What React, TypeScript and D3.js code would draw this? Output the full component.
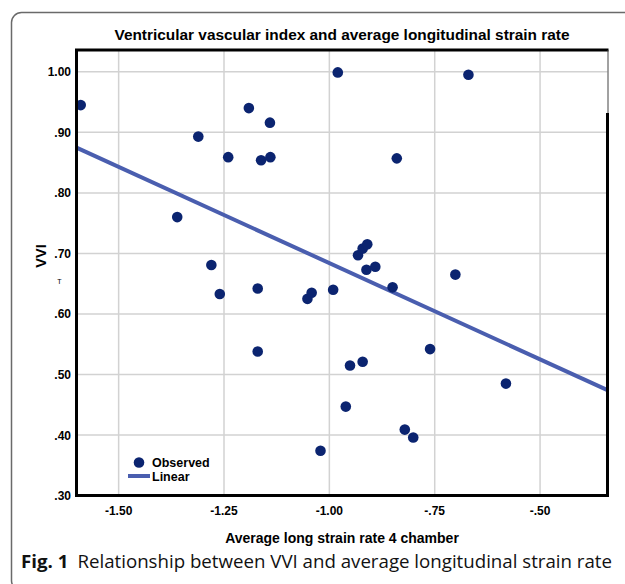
import React, { useEffect, useRef } from "react";
import * as d3 from "d3";

// observed points: average long strain rate (4 chamber) vs VVI
const strainRate = [
  -1.59, -1.311, -1.361, -1.28, -1.26, -1.191, -1.141, -1.24, -1.162, -1.14,
  -0.98, -0.67, -0.84, -1.17, -1.17, -1.052, -1.042, -0.991, -0.932, -0.921,
  -0.91, -0.912, -0.891, -0.85, -0.701, -0.951, -0.921, -0.761, -0.581, -0.961,
  -0.821, -0.801, -1.021,
];
const vvi = [
  0.945, 0.893, 0.76, 0.681, 0.633, 0.94, 0.916, 0.859, 0.854, 0.859,
  0.999, 0.995, 0.857, 0.642, 0.538, 0.625, 0.635, 0.64, 0.697, 0.708,
  0.715, 0.673, 0.678, 0.644, 0.665, 0.515, 0.521, 0.542, 0.485, 0.447,
  0.409, 0.396, 0.374,
];

const xTicks = [-1.5, -1.25, -1.0, -0.75, -0.5];
const xTickLabels = ["-1.50", "-1.25", "-1.00", "-.75", "-.50"];
const yTicks = [0.3, 0.4, 0.5, 0.6, 0.7, 0.8, 0.9, 1.0];
const yTickLabels = [".30", ".40", ".50", ".60", ".70", ".80", ".90", "1.00"];

// linear fit
const fitIntercept = 0.366;
const fitSlope = -0.318;

const xDomain = [-1.6, -0.34];
const yDomain = [0.3, 1.036];

export default function App() {
  const svgRef = useRef<SVGSVGElement>(null);

  useEffect(() => {
    const svg = d3.select(svgRef.current);
    svg.selectAll("*").remove();

    const left = 76.5, right = 607.5, top = 50, bottom = 495.6;
    const font = "Arial, 'Liberation Sans', sans-serif";

    const x = d3.scaleLinear().domain(xDomain).range([left, right]);
    const y = d3.scaleLinear().domain(yDomain).range([bottom, top]);

    // outer figure frame
    svg.append("rect")
      .attr("x", 11.5).attr("y", 12.5)
      .attr("width", 700).attr("height", 578)
      .attr("rx", 10)
      .attr("fill", "none")
      .attr("stroke", "#6a6a6a")
      .attr("stroke-width", 1.5);

    // title
    svg.append("text")
      .attr("x", (left + right) / 2).attr("y", 40)
      .attr("text-anchor", "middle")
      .attr("font-family", font).attr("font-weight", "bold").attr("font-size", 14.5)
      .attr("textLength", 455).attr("lengthAdjust", "spacingAndGlyphs")
      .text("Ventricular vascular index and average longitudinal strain rate");

    // grid
    const grid = svg.append("g").attr("stroke", "#d2d2d2").attr("stroke-width", 1.5);
    xTicks.forEach(t => {
      grid.append("line").attr("x1", x(t)).attr("x2", x(t)).attr("y1", top).attr("y2", bottom);
    });
    yTicks.forEach(t => {
      grid.append("line").attr("x1", left).attr("x2", right).attr("y1", y(t)).attr("y2", y(t));
    });

    // tick labels
    yTicks.forEach((t, i) => {
      svg.append("text")
        .attr("x", 71).attr("y", y(t) + 4.5)
        .attr("text-anchor", "end")
        .attr("font-family", font).attr("font-weight", "bold").attr("font-size", 12)
        .text(yTickLabels[i]);
    });
    xTicks.forEach((t, i) => {
      svg.append("text")
        .attr("x", x(t)).attr("y", 515)
        .attr("text-anchor", "middle")
        .attr("font-family", font).attr("font-weight", "bold").attr("font-size", 12)
        .text(xTickLabels[i]);
    });

    // axis titles
    svg.append("text")
      .attr("x", (left + right) / 2).attr("y", 543)
      .attr("text-anchor", "middle")
      .attr("font-family", font).attr("font-weight", "bold").attr("font-size", 14)
      .text("Average long strain rate 4 chamber");
    svg.append("text")
      .attr("transform", "translate(46,256) rotate(-90)")
      .attr("text-anchor", "middle")
      .attr("font-family", font).attr("font-weight", "bold").attr("font-size", 14.5)
      .text("VVI");
    svg.append("text")
      .attr("x", 59.5).attr("y", 284)
      .attr("text-anchor", "middle")
      .attr("font-family", font).attr("font-size", 7)
      .text("T");

    // fit line
    const fit = xDomain.map(v => [v, fitIntercept + fitSlope * v]);
    svg.append("path")
      .datum(fit)
      .attr("fill", "none")
      .attr("stroke", "#4a5eaf")
      .attr("stroke-width", 4)
      .attr("d", d3.line().x(d => x(d[0])).y(d => y(d[1])));

    // points
    svg.append("g")
      .selectAll("circle")
      .data(strainRate)
      .join("circle")
      .attr("cx", d => x(d))
      .attr("cy", (d, i) => y(vvi[i]))
      .attr("r", 5.3)
      .attr("fill", "#0b2470");

    // plot frame
    const frame = svg.append("g").attr("stroke", "#000").attr("fill", "none");
    frame.append("path")
      .attr("stroke-width", 3)
      .attr("d", `M${right + 1},${top} H${left} V${bottom} H${right}`);
    frame.append("line")
      .attr("x1", right + 0.5).attr("x2", right + 0.5).attr("y1", top).attr("y2", 113)
      .attr("stroke", "#444").attr("stroke-width", 1);
    frame.append("line")
      .attr("x1", right).attr("x2", right).attr("y1", 113).attr("y2", bottom + 1.5)
      .attr("stroke-width", 3);

    // legend
    svg.append("circle").attr("cx", 139).attr("cy", 462.5).attr("r", 5.3).attr("fill", "#0b2470");
    svg.append("text")
      .attr("x", 152).attr("y", 467)
      .attr("font-family", font).attr("font-weight", "bold").attr("font-size", 12.5)
      .text("Observed");
    svg.append("line")
      .attr("x1", 128).attr("x2", 150).attr("y1", 476).attr("y2", 476)
      .attr("stroke", "#4a5eaf").attr("stroke-width", 4);
    svg.append("text")
      .attr("x", 152).attr("y", 480.5)
      .attr("font-family", font).attr("font-weight", "bold").attr("font-size", 12.5)
      .text("Linear");

    // caption
    const cap = svg.append("text")
      .attr("x", 21).attr("y", 568)
      .attr("font-family", "'Open Sans', 'Noto Sans', sans-serif").attr("font-size", 18.5)
      .attr("fill", "#111")
      .attr("textLength", 591).attr("lengthAdjust", "spacingAndGlyphs");
    cap.append("tspan").attr("font-weight", "bold").text("Fig. 1");
    cap.append("tspan").attr("dx", 9).text("Relationship between VVI and average longitudinal strain rate");
  }, []);

  return (
    <div style={{ position: "absolute", left: 0, top: 0 }}>
      <svg ref={svgRef} width={625} height={584}></svg>
    </div>
  );
}
